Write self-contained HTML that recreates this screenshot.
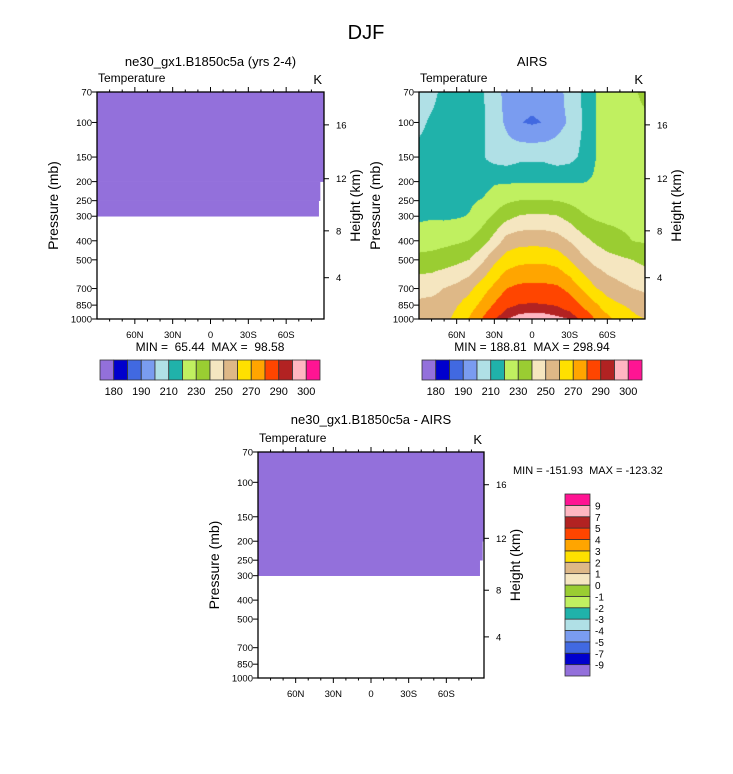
<!DOCTYPE html>
<html><head><meta charset="utf-8">
<style>
body{margin:0;background:#fff;}
#wrap{position:relative;width:733px;height:774px;overflow:hidden;background:#fff;}
svg{position:absolute;left:0;top:0;}
canvas{position:absolute;}
text{font-family:"Liberation Sans",sans-serif;fill:#000;white-space:pre;}
</style></head>
<body>
<div id="wrap">
<canvas id="airsCanvas" width="226" height="227" style="left:419px;top:92px"></canvas>
<svg id="fig" width="733" height="774"></svg>
</div>
<script>
const LATS=[90,80,70,60,50,40,30,20,10,0,-10,-20,-30,-40,-50,-60,-70,-80,-90];
const PRESS=[70,100,150,200,250,300,400,500,700,850,1000];
const AIRS_T=[
[204,207,214,215,216.5,218.5,224.6,233.3,246.6,252,255],
[206,212,215,216,217,219,225.6,234,247.2,253,256],
[214,215,216,217,218,218.5,227,235.4,250.2,254,257],
[214,215,216,217,218,219.1,228.4,237.5,252.8,259.3,263],
[215,216,216,217,218.5,220.4,230.3,240,257.5,265,270.8],
[211,212,211,214.6,220.6,225.6,235.3,247.5,265.2,272.7,280],
[205,205,206.5,218.8,225.5,231.3,243.7,258,272.7,281.1,290],
[196,198,205,219,228.5,236.9,254.2,264.5,280.2,288.3,295],
[194,190.5,207.5,219,230.2,240.7,256.4,267.3,282.6,290.5,297.5],
[194,188.8,207.5,219,230.7,241.7,256.8,268,283,291,298.5],
[194,190.5,207.5,219,230.7,241.6,256.4,268,282.8,290.5,298],
[196,197,205,219,229.8,240.5,254.4,266,282,289.6,296.5],
[204,201,206.5,219.5,228,236.6,249.5,260,277.2,285.8,295],
[211,210,212,219.5,225.8,231.3,243.4,252.5,269.1,279,288],
[219.5,219.5,219.5,221,224.5,228.3,238.7,247.1,261,272.2,280],
[225,225,224,225,226,227.5,234.9,243.8,256,264.2,273],
[226,226,225,226,226.5,227.5,232.2,241.8,252.7,260.8,265],
[228,226,225,226,226.5,227.3,229.9,240,250.1,258.3,262],
[233,227.5,225,226,226.5,227,228.8,237.4,248.3,254.6,260]
];
const LEVELS=[180,185,190,200,210,220,230,240,250,260,270,280,290,295,300];
const COLORS=["#9370DB","#0000CD","#4169E1","#7A9CF0","#B0E0E6","#20B2AA","#C0F060","#9ACD32","#F5E6C0","#DEB887","#FFE000","#FFA500","#FF4500","#B22222","#FFB6C1","#FF1493"];
const TOP_LABELS=["180","190","210","230","250","270","290","300"];
const TOP_LABEL_IDX=[1,3,5,7,9,11,13,15];
const DIFF_LABELS=["-9","-7","-5","-4","-3","-2","-1","0","1","2","3","4","5","7","9"];
const P_TICKS=[70,100,150,200,250,300,400,500,700,850,1000];
const H_TICKS=[4,8,12,16];
const LAT_MAJOR=[60,30,0,-30,-60];
const LAT_MAJOR_LABELS=["60N","30N","0","30S","60S"];
const LAT_MINOR=[80,70,50,40,20,10,-10,-20,-40,-50,-70,-80];
const MODEL_FILL_TOP=[70,200,250];
const MODEL_FILL_BOT=[200,250,300];
const MODEL_FILL_RLAT=[-90,-87.1,-86];
const DIFF_FILL_RLAT=[-90,-89,-86.8];

const NS="http://www.w3.org/2000/svg";
const svg=document.getElementById('fig');
function el(tag,attrs,parent){const e=document.createElementNS(NS,tag);for(const k in attrs)e.setAttribute(k,attrs[k]);(parent||svg).appendChild(e);return e;}
function txt(s,x,y,size,anchor,parent,rot){const t=el('text',{x:x,y:y,'font-size':size,'text-anchor':anchor||'start'},parent);if(rot)t.setAttribute('transform','rotate(-90 '+x+' '+y+')');t.textContent=s;return t;}
function pressToH(z){const m=z*1000;if(m<=11000)return 1013.25*Math.pow(1-2.25577e-5*m,5.25588);return 226.32*Math.exp(-(m-11000)/6341.6);}

function makePanel(name,bx,by,bw,bh){
  const g=el('g',{});
  
  
  const xs=lat=>bx+(90-lat)/180*bw;
  const ys=p=>by+Math.log(p/70)/Math.log(1000/70)*bh;
  return {g,xs,ys,bx,by,bw,bh};
}
function drawAxes(P,title,tx,tyTitle){
  const {g,xs,ys,bx,by,bw,bh}=P;
  const f=el('rect',{x:bx,y:by,width:bw,height:bh,fill:'none',stroke:'#000','stroke-width':1.3},g);
  
  P_TICKS.forEach(p=>{const y=ys(p);el('line',{x1:bx-5,x2:bx,y1:y,y2:y,stroke:'#000'},g);
    const t=txt(String(p),bx-5,y+3.5,9.5,'end',g);});
  H_TICKS.forEach(h=>{const y=ys(pressToH(h));el('line',{x1:bx+bw,x2:bx+bw+5,y1:y,y2:y,stroke:'#000'},g);
    const t=txt(String(h),bx+bw+12,y+3.5,9.5,'start',g);});
  LAT_MAJOR.forEach((l,i)=>{const x=xs(l);
    el('line',{x1:x,x2:x,y1:by+bh,y2:by+bh+5,stroke:'#000'},g);
    el('line',{x1:x,x2:x,y1:by,y2:by-5,stroke:'#000'},g);
    const t=txt(LAT_MAJOR_LABELS[i],x,by+bh+19,9.5,'middle',g);});
  LAT_MINOR.forEach(l=>{const x=xs(l);
    el('line',{x1:x,x2:x,y1:by+bh,y2:by+bh+2.5,stroke:'#000'},g);
    el('line',{x1:x,x2:x,y1:by,y2:by-2.5,stroke:'#000'},g);});
  const a=txt('Pressure (mb)',bx-39,by+bh/2,14,'middle',g,true);
  const b=txt('Height (km)',bx+bw+36,by+bh/2,14,'middle',g,true);
  const c=txt('Temperature',bx+1,by-10,12,'start',g);
  const d=txt('K',bx+bw-2,by-8,13,'end',g);
  const e=txt(title,bx+bw/2,tyTitle,13,'middle',g);
}
function drawPurple(P,rlats){
  MODEL_FILL_TOP.forEach((pt,i)=>{
    const x0=P.xs(90),x1=P.xs(rlats[i]),y0=P.ys(pt),y1=P.ys(MODEL_FILL_BOT[i]);
    const r=el('rect',{x:x0,y:y0,width:x1-x0,height:y1-y0+0.3,fill:COLORS[0]},P.g);
    
  });
}
function drawHBar(x,y,w,h,name){
  const g=el('g',{});
  const bw=w/COLORS.length;
  COLORS.forEach((c,i)=>{const r=el('rect',{x:x+i*bw,y:y,width:bw,height:h,fill:c,stroke:'#333','stroke-width':0.8},g);
    });
  TOP_LABELS.forEach((s,k)=>{const t=txt(s,x+TOP_LABEL_IDX[k]*bw,y+h+15,11,'middle',g);});
}

const T=txt('DJF',366,39,20,'middle');

const P1=makePanel('model-panel',97,92,227,227);
drawPurple(P1,MODEL_FILL_RLAT);
drawAxes(P1,'ne30_gx1.B1850c5a (yrs 2-4)',0,66);
let m1=txt('MIN =\u00a0\u00a065.44\u00a0\u00a0MAX =\u00a0\u00a098.58',210,351,12,'middle');
drawHBar(100,360,220,20,'model-colorbar');

const P2=makePanel('airs-panel',419,92,226,227);
(function(){
  const cv=document.getElementById('airsCanvas');const ctx=cv.getContext('2d');
  const img=ctx.createImageData(226,227);
  const rgb=COLORS.map(c=>[parseInt(c.substr(1,2),16),parseInt(c.substr(3,2),16),parseInt(c.substr(5,2),16)]);
  const lnP=PRESS.map(p=>Math.log(p));
  for(let py=0;py<227;py++){
    const lp=Math.log(70)+(py+0.5)/227*Math.log(1000/70);
    let j=0;while(j<PRESS.length-2&&lp>lnP[j+1])j++;
    const fy=Math.min(1,Math.max(0,(lp-lnP[j])/(lnP[j+1]-lnP[j])));
    for(let px=0;px<226;px++){
      const lat=90-(px+0.5)/226*180;
      let i=0;while(i<LATS.length-2&&lat<LATS[i+1])i++;
      const fx=Math.min(1,Math.max(0,(LATS[i]-lat)/(LATS[i]-LATS[i+1])));
      const a=AIRS_T[i][j]*(1-fy)+AIRS_T[i][j+1]*fy;
      const b=AIRS_T[i+1][j]*(1-fy)+AIRS_T[i+1][j+1]*fy;
      const v=a*(1-fx)+b*fx;
      let k=0;while(k<LEVELS.length&&v>=LEVELS[k])k++;
      const c=rgb[k];const o=(py*226+px)*4;
      img.data[o]=c[0];img.data[o+1]=c[1];img.data[o+2]=c[2];img.data[o+3]=255;
    }
  }
  ctx.putImageData(img,0,0);
})();
drawAxes(P2,'AIRS',0,66);
let m2=txt('MIN = 188.81\u00a0\u00a0MAX = 298.94',532,351,12,'middle');
drawHBar(422,360,220,20,'airs-colorbar');

const P3=makePanel('difference-panel',258,452,226,226);
drawPurple(P3,DIFF_FILL_RLAT);
drawAxes(P3,'ne30_gx1.B1850c5a - AIRS',0,424);
let m3=txt('MIN = -151.93\u00a0\u00a0MAX = -123.32',513,474,11,'start');
(function(){
  const x=565,y=494,w=25,h=182;const bh=h/COLORS.length;
  const g=el('g',{});
  COLORS.forEach((c,i)=>{const r=el('rect',{x:x,y:y+h-(i+1)*bh,width:w,height:bh,fill:c,stroke:'#333','stroke-width':0.8},g);
    });
  DIFF_LABELS.forEach((s,i)=>{const t=txt(s,x+w+5,y+h-(i+1)*bh+4,10,'start',g);});
})();
</script>
</body></html>
